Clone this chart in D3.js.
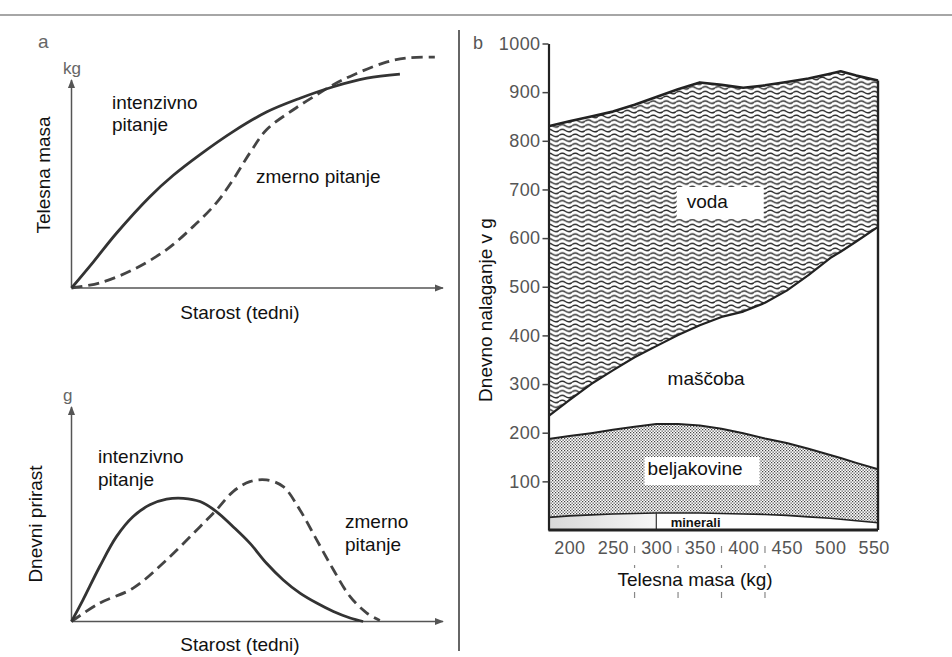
<!DOCTYPE html>
<html>
<head>
<meta charset="utf-8">
<script src="https://cdn.jsdelivr.net/npm/d3@7"></script>
<style>
body { margin: 0; background: #fff; }
text { font-family: "Liberation Sans", Arial, sans-serif; }
</style>
</head>
<body>
<svg id="chart" width="952" height="657"></svg>
<script>
// panel a (zgoraj) - telesna masa, relativne enote
var ageMassInt = [0, 5.9, 12.1, 21.1, 27.4, 34.6, 43.5, 52.5, 61.5, 70.5, 79.5, 88.4];
var massInt    = [0, 11.4, 23.8, 39.7, 49, 58, 68, 76.5, 82.5, 87.5, 91.2, 93];
var ageMassMod = [0, 7.6, 16.6, 25.6, 32.8, 39, 43.5, 48, 52.5, 59.7, 66, 70.5, 75, 83.9, 90.2, 97.8];
var massMod    = [0, 2.2, 8, 16.7, 26.8, 37, 47.1, 58.7, 68.8, 77.5, 84, 88.4, 92, 97.8, 100, 100.4];

// panel a (spodaj) - dnevni prirast
var ageGainInt = [0, 3.1, 7.6, 12.1, 16.6, 21.1, 25.6, 30.1, 34.6, 39, 43.5, 48, 52.5, 57, 61.5, 66, 70.5, 75, 78.5];
var gainInt    = [0, 10, 25.4, 39.2, 48.5, 53.9, 56.5, 56.9, 55.4, 50.8, 43.8, 36.2, 26.9, 19.2, 13.1, 8.5, 4.6, 1.6, 0];
var ageGainMod = [0, 7.6, 16.6, 25.6, 34.6, 39, 43.5, 48, 52.5, 57, 61.5, 66, 70.5, 75, 79.5, 83];
var gainMod    = [0, 8.5, 15.4, 28.5, 43.8, 51.5, 60, 64.6, 65.4, 62.3, 51.5, 37.7, 23.9, 11.5, 3.9, 0.5];

// panel b - dnevno nalaganje (g) glede na telesno maso (kg)
var bodyMass    = [176, 200, 225, 250, 275, 300, 325, 350, 375, 400, 425, 450, 475, 500, 512, 530, 555];
var totalTop    = [830, 840, 850, 860, 874, 890, 906, 920, 915, 909, 914, 921, 928, 938, 943, 934, 924];
var waterBase   = [234, 267, 300, 328, 355, 378, 401, 421, 438, 449, 467, 492, 524, 559, 572, 593, 623];
var proteinTop  = [187, 193, 199, 206, 212, 218, 218, 215, 208, 199, 188, 179, 167, 154, 148, 138, 125];
var mineralTop  = [26, 29, 31, 33, 34, 35, 35, 35, 34, 33, 32, 30, 27, 24, 22, 19, 15];
var massTicks   = [200, 250, 300, 350, 400, 450, 500, 550];
var intakeTicks = [100, 200, 300, 400, 500, 600, 700, 800, 900, 1000];
var guideMass   = [275, 325, 375, 425];

var svg = d3.select("#chart");
var defs = svg.append("defs");

defs.append("marker")
  .attr("id", "arrow")
  .attr("viewBox", "0 0 10 10")
  .attr("refX", 9).attr("refY", 5)
  .attr("markerWidth", 9).attr("markerHeight", 9)
  .attr("markerUnits", "userSpaceOnUse")
  .attr("orient", "auto")
  .append("path").attr("d", "M0,1 L10,5 L0,9 Z").attr("fill", "#555");

// valovite crte za vodo
var wave = defs.append("pattern")
  .attr("id", "waves").attr("patternUnits", "userSpaceOnUse")
  .attr("width", 13).attr("height", 4.75);
wave.append("path")
  .attr("d", "M0,2.4 C2.2,0.7 4.3,0.7 6.5,2.4 C8.7,4.1 10.8,4.1 13,2.4")
  .attr("fill", "none").attr("stroke", "#222").attr("stroke-width", 1.35);

// pike za beljakovine
var dots = defs.append("pattern")
  .attr("id", "dots").attr("patternUnits", "userSpaceOnUse")
  .attr("width", 3).attr("height", 3);
dots.append("rect").attr("width", 3).attr("height", 3).attr("fill", "#fff");
dots.append("rect").attr("x", 0).attr("y", 0).attr("width", 1.25).attr("height", 1.25).attr("fill", "#444");
dots.append("rect").attr("x", 1.5).attr("y", 1.5).attr("width", 1.25).attr("height", 1.25).attr("fill", "#444");

var grad = defs.append("linearGradient").attr("id", "minGrad");
grad.append("stop").attr("offset", "0%").attr("stop-color", "#d8d8d8");
grad.append("stop").attr("offset", "100%").attr("stop-color", "#f6f6f6");

// okvir strani
svg.append("line").attr("x1", 0).attr("x2", 952).attr("y1", 15).attr("y2", 15)
  .attr("stroke", "#888").attr("stroke-width", 1.5);
svg.append("line").attr("x1", 459).attr("x2", 459).attr("y1", 30).attr("y2", 651)
  .attr("stroke", "#333").attr("stroke-width", 1.5);

// ---------- panel a ----------
var xAge = d3.scaleLinear().domain([0, 100]).range([71.5, 443]);
var yMass = d3.scaleLinear().domain([0, 100]).range([288, 58]);
var yGain = d3.scaleLinear().domain([0, 100]).range([621.5, 405]);

function zipXY(xs, ys) { return xs.map(function(d, i) { return [d, ys[i]]; }); }

function drawCurve(g, xs, ys, yScale, dashed) {
  var line = d3.line()
    .x(function(d) { return xAge(d[0]); })
    .y(function(d) { return yScale(d[1]); })
    .curve(d3.curveCatmullRom);
  g.append("path")
    .attr("d", line(zipXY(xs, ys)))
    .attr("fill", "none")
    .attr("stroke", dashed ? "#444" : "#333")
    .attr("stroke-width", 2.8)
    .attr("stroke-dasharray", dashed ? "11,6" : null);
}

function drawArrows(g, y0, yTop) {
  g.append("line").attr("x1", 71.5).attr("x2", 71.5).attr("y1", y0).attr("y2", yTop)
    .attr("stroke", "#555").attr("stroke-width", 1.5).attr("marker-end", "url(#arrow)");
  g.append("line").attr("x1", 71.5).attr("x2", 443).attr("y1", y0).attr("y2", y0)
    .attr("stroke", "#555").attr("stroke-width", 1.5).attr("marker-end", "url(#arrow)");
}

var gTop = svg.append("g");
drawArrows(gTop, yMass(0), 80);
drawCurve(gTop, ageMassMod, massMod, yMass, true);
drawCurve(gTop, ageMassInt, massInt, yMass, false);

gTop.append("text").attr("x", 38).attr("y", 48).attr("font-size", 19).attr("fill", "#666").text("a");
gTop.append("text").attr("x", 63).attr("y", 74).attr("font-size", 17).attr("fill", "#666").text("kg");
gTop.append("text").attr("x", 112).attr("y", 109).attr("font-size", 19).attr("fill", "#111").text("intenzivno");
gTop.append("text").attr("x", 112).attr("y", 131).attr("font-size", 19).attr("fill", "#111").text("pitanje");
gTop.append("text").attr("x", 256).attr("y", 183).attr("font-size", 19).attr("fill", "#111").text("zmerno pitanje");
gTop.append("text").attr("x", 240).attr("y", 319).attr("text-anchor", "middle")
  .attr("font-size", 19).attr("fill", "#111").text("Starost (tedni)");
gTop.append("text").attr("transform", "translate(50,175) rotate(-90)").attr("text-anchor", "middle")
  .attr("font-size", 19).attr("fill", "#111").text("Telesna masa");

var gBot = svg.append("g");
drawArrows(gBot, yGain(0), 407);
drawCurve(gBot, ageGainMod, gainMod, yGain, true);
drawCurve(gBot, ageGainInt, gainInt, yGain, false);

gBot.append("text").attr("x", 63).attr("y", 401).attr("font-size", 17).attr("fill", "#666").text("g");
gBot.append("text").attr("x", 98).attr("y", 463).attr("font-size", 19).attr("fill", "#111").text("intenzivno");
gBot.append("text").attr("x", 98).attr("y", 486).attr("font-size", 19).attr("fill", "#111").text("pitanje");
gBot.append("text").attr("x", 345).attr("y", 528).attr("font-size", 19).attr("fill", "#111").text("zmerno");
gBot.append("text").attr("x", 345).attr("y", 551).attr("font-size", 19).attr("fill", "#111").text("pitanje");
gBot.append("text").attr("x", 240).attr("y", 651).attr("text-anchor", "middle")
  .attr("font-size", 19).attr("fill", "#111").text("Starost (tedni)");
gBot.append("text").attr("transform", "translate(42,524) rotate(-90)").attr("text-anchor", "middle")
  .attr("font-size", 19).attr("fill", "#111").text("Dnevni prirast");

// ---------- panel b ----------
var xMass = d3.scaleLinear().domain([176, 555]).range([548.5, 878]);
var yIntake = d3.scaleLinear().domain([0, 1000]).range([530, 43.5]);

var rows = bodyMass.map(function(m, i) {
  return { m: m, total: totalTop[i], water: waterBase[i], protein: proteinTop[i], mineral: mineralTop[i] };
});

var gB = svg.append("g");

function band(lo, hi) {
  return d3.area()
    .x(function(d) { return xMass(d.m); })
    .y0(function(d) { return yIntake(lo(d)); })
    .y1(function(d) { return yIntake(hi(d)); })
    .curve(d3.curveLinear);
}

gB.append("path").attr("d", band(function(d) { return d.water; }, function(d) { return d.total; })(rows))
  .attr("fill", "url(#waves)");
gB.append("path").attr("d", band(function(d) { return d.protein; }, function(d) { return d.water; })(rows))
  .attr("fill", "#fff");
gB.append("path").attr("d", band(function(d) { return d.mineral; }, function(d) { return d.protein; })(rows))
  .attr("fill", "url(#dots)");
gB.append("path").attr("d", band(function() { return 0; }, function(d) { return d.mineral; })(rows))
  .attr("fill", "#fff");
gB.append("path")
  .attr("d", band(function() { return 0; }, function(d) { return d.mineral; })(rows.filter(function(d) { return d.m <= 300; })))
  .attr("fill", "url(#minGrad)");

function edge(key, w) {
  var line = d3.line()
    .x(function(d) { return xMass(d.m); })
    .y(function(d) { return yIntake(d[key]); });
  gB.append("path").attr("d", line(rows))
    .attr("fill", "none").attr("stroke", "#222").attr("stroke-width", w).attr("stroke-linejoin", "round");
}
edge("total", 2.6);
edge("water", 2.2);
edge("protein", 2);
edge("mineral", 1.6);

// meja minerali pri 300 kg
var m300 = rows.filter(function(d) { return d.m === 300; })[0];
gB.append("line")
  .attr("x1", xMass(300)).attr("x2", xMass(300))
  .attr("y1", yIntake(0)).attr("y2", yIntake(m300.mineral))
  .attr("stroke", "#333").attr("stroke-width", 1.2);

// desni rob in dno
var last = rows[rows.length - 1];
gB.append("line")
  .attr("x1", xMass(last.m)).attr("x2", xMass(last.m))
  .attr("y1", yIntake(last.total)).attr("y2", yIntake(0))
  .attr("stroke", "#222").attr("stroke-width", 2.4);
gB.append("line")
  .attr("x1", xMass(176)).attr("x2", xMass(last.m))
  .attr("y1", yIntake(0)).attr("y2", yIntake(0))
  .attr("stroke", "#222").attr("stroke-width", 3);

// os y
var yAxis = d3.axisLeft(yIntake).tickValues(intakeTicks).tickFormat(d3.format("d"))
  .tickSize(6).tickSizeOuter(0).tickPadding(2);
var gy = svg.append("g").attr("transform", "translate(" + xMass(176) + ",0)").call(yAxis);
gy.select(".domain").attr("stroke", "#222").attr("stroke-width", 2.2);
gy.selectAll(".tick line").attr("stroke", "#444").attr("stroke-width", 1.5);
gy.selectAll(".tick text")
  .attr("font-family", "'DejaVu Sans', sans-serif").attr("font-size", 18)
  .attr("letter-spacing", 0.4).attr("fill", "#555");

// os x (samo oznake)
var xAxis = d3.axisBottom(xMass).tickValues(massTicks).tickFormat(d3.format("d"))
  .tickSize(0).tickPadding(11);
var gx = svg.append("g").attr("transform", "translate(0," + yIntake(0) + ")").call(xAxis);
gx.select(".domain").remove();
gx.selectAll(".tick text")
  .attr("font-family", "'DejaVu Sans', sans-serif").attr("font-size", 18)
  .attr("letter-spacing", 0.4).attr("fill", "#555");

// blede pomozne crtice
svg.selectAll(".guide").data(guideMass).enter().append("line")
  .attr("class", "guide")
  .attr("x1", function(d) { return xMass(d); }).attr("x2", function(d) { return xMass(d); })
  .attr("y1", 546).attr("y2", 598)
  .attr("stroke", "#888").attr("stroke-width", 1.2).attr("stroke-dasharray", "7,12,3,24,6");

svg.append("text").attr("x", 473).attr("y", 49)
  .attr("font-family", "'DejaVu Sans', sans-serif").attr("font-size", 18).attr("fill", "#555").text("b");
svg.append("text").attr("transform", "translate(492,310) rotate(-90)").attr("text-anchor", "middle")
  .attr("font-size", 19).attr("fill", "#111").text("Dnevno nalaganje v g");
svg.append("text").attr("x", 695).attr("y", 586).attr("text-anchor", "middle")
  .attr("font-size", 19).attr("fill", "#111").text("Telesna masa (kg)");

// oznake komponent
var gL = svg.append("g");
gL.append("rect").attr("x", xMass(335) - 10).attr("y", yIntake(662) - 21).attr("width", 87).attr("height", 32).attr("fill", "#fff");
gL.append("text").attr("x", xMass(335)).attr("y", yIntake(662)).attr("font-size", 19).attr("fill", "#111").text("voda");
gL.append("text").attr("x", xMass(313)).attr("y", yIntake(298)).attr("font-size", 19).attr("fill", "#111").text("maščoba");
gL.append("rect").attr("x", xMass(290) - 3).attr("y", yIntake(113) - 18).attr("width", 115).attr("height", 28).attr("fill", "#fff");
gL.append("text").attr("x", xMass(290)).attr("y", yIntake(113)).attr("font-size", 19).attr("fill", "#111").text("beljakovine");
gL.append("text").attr("x", xMass(316.5)).attr("y", yIntake(6))
  .attr("font-family", "'DejaVu Sans', sans-serif").attr("font-weight", "bold")
  .attr("font-size", 13).attr("fill", "#111").text("minerali");
</script>
</body>
</html>
